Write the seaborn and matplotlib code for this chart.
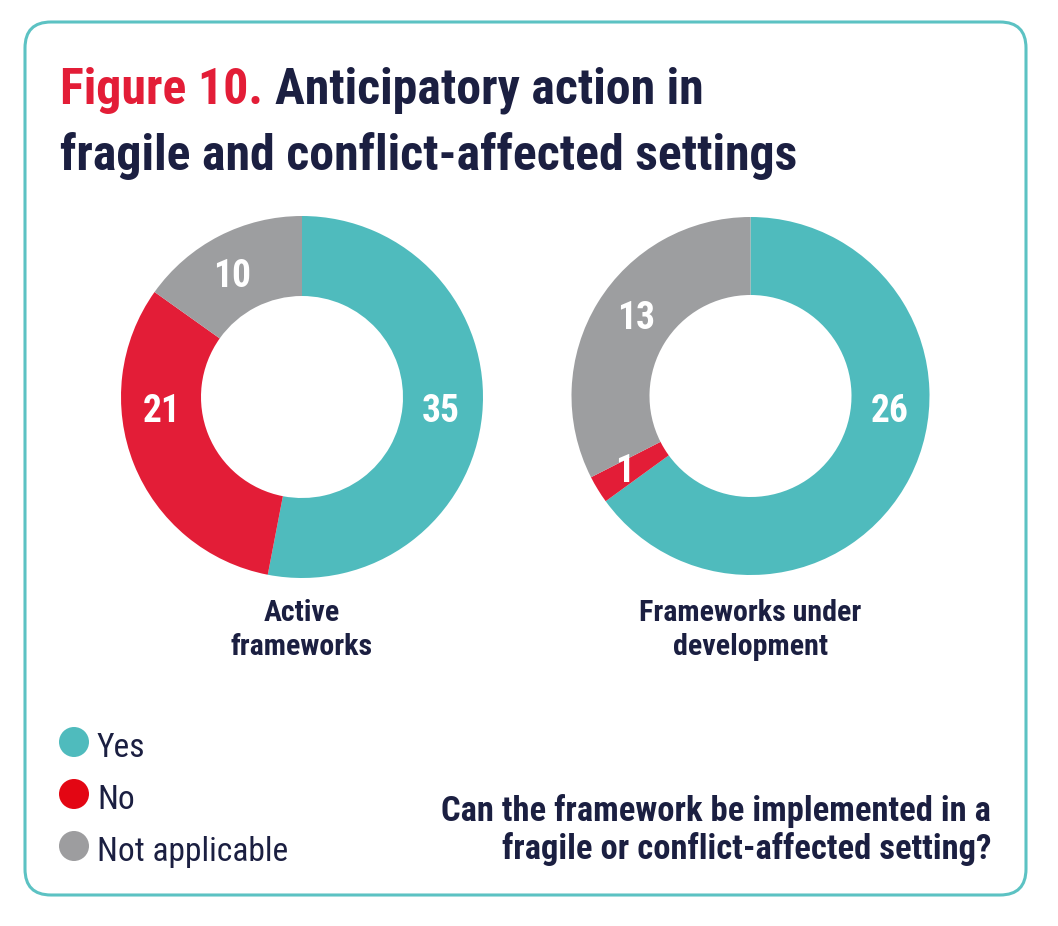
import matplotlib
matplotlib.use("Agg")
import matplotlib.pyplot as plt
from matplotlib import font_manager
from matplotlib.patches import FancyBboxPatch, Circle
import numpy as np
import seaborn as sns

# ---------------- data ----------------
categories = ["Yes", "No", "Not applicable"]
active_values = [35, 21, 10]
development_values = [26, 1, 13]
panel_labels = ["Active\nframeworks", "Frameworks under\ndevelopment"]
title_prefix = "Figure 10."
title_line1 = "Anticipatory action in"
title_line2 = "fragile and conflict-affected settings"
question_text = "Can the framework be implemented in a\nfragile or conflict-affected setting?"

# ---------------- style ----------------
TEAL = "#4FBBBD"
RED = "#E31D37"
GRAY = "#9D9EA0"
NAVY = "#1B1F41"
LEGEND_COLORS = ["#4FBBBD", "#E30613", "#9D9D9F"]
BORDER = "#5CC2C3"

sns.set_theme(style="white")
palette = sns.color_palette([TEAL, RED, GRAY])

names = {f.name for f in font_manager.fontManager.ttflist}
cands = ["Roboto Condensed", "Liberation Sans Narrow", "Open Sans Condensed",
         "Roboto", "Lato", "DejaVu Sans"]
FONT = next(c for c in cands if c in names)
plt.rcParams["font.family"] = [FONT, "DejaVu Sans"]

W, H = 1058, 926
fig = plt.figure(figsize=(W / 100, H / 100), dpi=100)
fig.patch.set_facecolor("white")
bg = fig.add_axes([0, 0, 1, 1])
bg.set_xlim(0, W)
bg.set_ylim(H, 0)
bg.axis("off")

bg.add_patch(FancyBboxPatch((25, 22), 1001, 873,
                            boxstyle="round,pad=0,rounding_size=26",
                            fc="white", ec=BORDER, lw=2.2, zorder=0))

renderer = fig.canvas.get_renderer()


def width_of(t):
    return t.get_window_extent(renderer).width


def fit(t, target):
    for _ in range(3):
        w = width_of(t)
        t.set_fontsize(t.get_fontsize() * target / w)
    return t


# ---------------- title ----------------
t2 = bg.text(60, 170, title_line2, color=NAVY, fontsize=36, fontweight="bold",
             va="baseline", ha="left")
fit(t2, 735)
fs_title = t2.get_fontsize()
tp = bg.text(60, 104, title_prefix, color=RED, fontsize=fs_title,
             fontweight="bold", va="baseline", ha="left")
wp = width_of(tp)
space = fs_title * 0.25 * 100 / 72
bg.text(60 + wp + space, 104, title_line1, color=NAVY, fontsize=fs_title,
        fontweight="bold", va="baseline", ha="left")


# ---------------- donuts ----------------
def donut(cx, cy, r_out, r_in, values, label_angles, label_radii, caption,
          cap_fs):
    ax = fig.add_axes([(cx - r_out) / W, 1 - (cy + r_out) / H,
                       2 * r_out / W, 2 * r_out / H])
    ax.pie(values, colors=palette, startangle=90, counterclock=False,
           radius=1, wedgeprops=dict(width=1 - r_in / r_out,
                                     edgecolor="none", linewidth=0))
    ax.set_xlim(-1, 1)
    ax.set_ylim(-1, 1)
    ax.set_aspect("equal")
    ax.axis("off")
    for v, ang, rr in zip(values, label_angles, label_radii):
        a = np.deg2rad(ang)
        ax.text(rr / r_out * np.sin(a), rr / r_out * np.cos(a), str(v),
                color="white", fontsize=27, fontweight="bold",
                ha="center", va="center")
    l1, l2 = caption.split("\n")
    bg.text(cx, 621, l1, color=NAVY, fontsize=cap_fs,
            fontweight="bold", ha="center", va="baseline")
    bg.text(cx, 655, l2, color=NAVY, fontsize=cap_fs,
            fontweight="bold", ha="center", va="baseline")
    return ax


# caption font size fitted on "Frameworks under" (223 px wide in reference)
probe = bg.text(0, 0, panel_labels[1].split("\n")[0], fontsize=20,
                fontweight="bold")
fit(probe, 223)
cap_fs = probe.get_fontsize()
probe.remove()

donut(302, 397, 181, 101, active_values, [96, 264, 330], [140, 141, 139],
      panel_labels[0], cap_fs)
donut(750.5, 396, 179, 101, development_values, [96.5, 239, 304],
      [140, 147, 138], panel_labels[1], cap_fs)

# ---------------- legend ----------------
probe = bg.text(0, 0, categories[2], fontsize=22)
fit(probe, 192)
leg_fs = probe.get_fontsize()
probe.remove()
for i, (lab, col) in enumerate(zip(categories, LEGEND_COLORS)):
    cy = 742 + 52 * i
    bg.add_patch(Circle((74, cy), 15, fc=col, ec="none"))
    bg.text(97, cy + 15, lab, color=NAVY, fontsize=leg_fs, ha="left",
            va="baseline")

# ---------------- question ----------------
q1, q2 = question_text.split("\n")
tq1 = bg.text(991, 821, q1, color=NAVY, fontsize=22.5, fontweight="bold",
              ha="right", va="baseline")
fit(tq1, 550)
bg.text(991, 859, q2, color=NAVY, fontsize=tq1.get_fontsize(),
        fontweight="bold", ha="right", va="baseline")

fig.savefig("out.png", dpi=100, facecolor="white")
